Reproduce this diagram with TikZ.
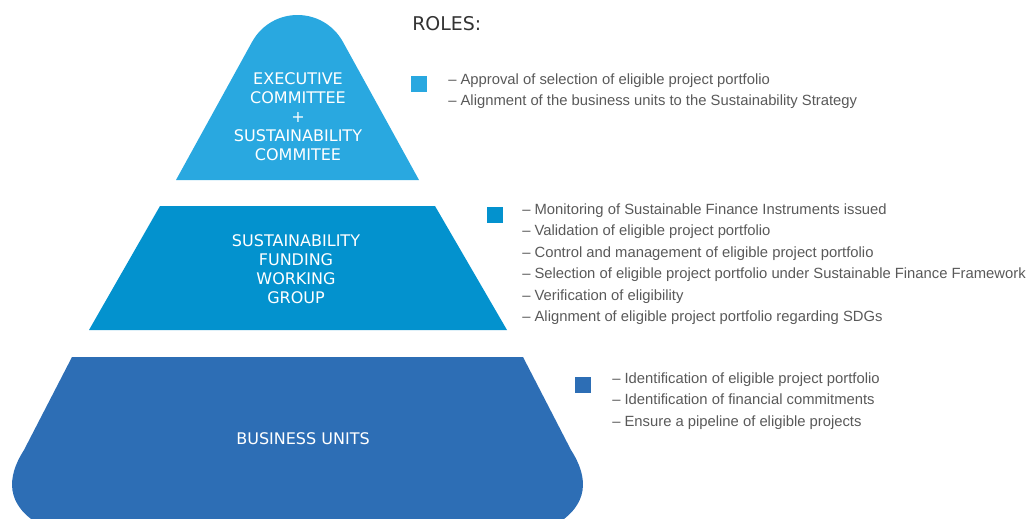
\documentclass[tikz,border=0pt]{standalone}
\usepackage{fontspec}
\setmainfont{Liberation Sans}
\newfontfamily\tierfont{DejaVu Sans}
\usepackage{xcolor}
\definecolor{tierA}{HTML}{29A8E0}
\definecolor{tierB}{HTML}{0392CE}
\definecolor{tierC}{HTML}{2D6EB5}
\definecolor{roletext}{HTML}{595959}
\definecolor{headtext}{HTML}{333333}

\begin{document}
\begin{tikzpicture}[x=0.75pt,y=-0.75pt,
tier/.style = {text=white, align=center,
            font=\tierfont\fontsize{12}{14.25}\selectfont},
role/.style = {anchor=base west, inner sep=0pt, text=roletext,
            font=\fontsize{11.1}{13}\selectfont},
rolebox/.style = {fill=#1, minimum size=12pt,
            inner sep=0pt, outer sep=0pt, anchor=north west}
                ]
    \useasboundingbox (0,0) rectangle (1031,518);
    \clip (0,0) rectangle (1031,518);
    % the three tiers
    \fill[tierA] (176,180) -- (252,42) .. controls (272,6) and (323,6) .. (343,42) -- (419,180) -- cycle;
    \fill[tierB] (160,206) -- (435,206) -- (507,330) -- (89,330) -- cycle;
    \fill[tierC] (72,357) -- (523,357) -- (571,450) .. controls (589,478) and (589,505) .. (555,525)
        -- (40,525) .. controls (6,505) and (6,478) .. (24,450) -- cycle;
    \node[tier] (exec) at (298,117) {EXECUTIVE\\COMMITTEE\\+\\SUSTAINABILITY\\COMMITEE};
    \node[tier] (sfwg) at (296,269) {SUSTAINABILITY\\FUNDING\\WORKING\\GROUP};
    \node[tier] (bu) at (303,439) {BUSINESS UNITS};
    % roles
    \node[anchor=base west, inner sep=0pt, text=headtext,
        font=\tierfont\fontsize{14.2}{16}\selectfont] (roles) at (412,30) {ROLES:};
    \node[rolebox=tierA] (boxA) at (411,76) {};
    \node[rolebox=tierB] (boxB) at (487,207) {};
    \node[rolebox=tierC] (boxC) at (575,377) {};
    \foreach \t [count=\i from 0] in {Approval of selection of eligible project portfolio,
        Alignment of the business units to the Sustainability Strategy}
        \node[role] (rA\i) at (448,84+21.5*\i) {\textendash\ \t};
    \foreach \t [count=\i from 0] in {Monitoring of Sustainable Finance Instruments issued,
        Validation of eligible project portfolio,
        Control and management of eligible project portfolio,
        Selection of eligible project portfolio under Sustainable Finance Framework,
        Verification of eligibility,
        Alignment of eligible project portfolio regarding SDGs}
        \node[role] (rB\i) at (522,214+21.5*\i) {\textendash\ \t};
    \foreach \t [count=\i from 0] in {Identification of eligible project portfolio,
        Identification of financial commitments,
        Ensure a pipeline of eligible projects}
        \node[role] (rC\i) at (612,383+21.6*\i) {\textendash\ \t};
\end{tikzpicture}
\end{document}
